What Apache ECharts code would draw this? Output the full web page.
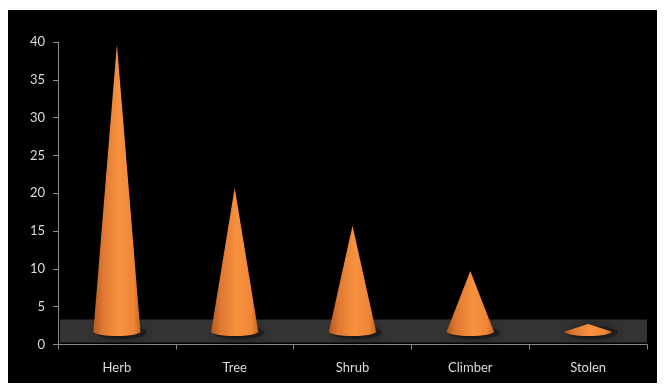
<!DOCTYPE html>
<html>
<head>
<meta charset="utf-8">
<script src="https://cdn.jsdelivr.net/npm/echarts@6/dist/echarts.min.js"></script>
<style>
  html, body { margin: 0; padding: 0; background: #ffffff; }
  #chart { width: 666px; height: 386px; }
</style>
</head>
<body>
<div id="chart"></div>
<script>
// Growth habit counts, drawn as 3D-style cones standing on a floor
const categories = ['Herb', 'Tree', 'Shrub', 'Climber', 'Stolen'];
const counts = [38, 19, 14, 8, 1];
const valueMin = 0;
const valueMax = 40;
const valueStep = 5;

const LIFT = 13;       // depth offset of the cone row above the front floor edge
const FLOOR_H = 23;

const coneGradient = {
  type: 'linear', x: 0, y: 0, x2: 1, y2: 0,
  colorStops: [
    { offset: 0, color: '#b8581b' },
    { offset: 0.2, color: '#df7831' },
    { offset: 0.55, color: '#f8923f' },
    { offset: 0.85, color: '#f08638' },
    { offset: 1, color: '#c8651f' }
  ]
};

function renderFloor(params, api) {
  const cs = params.coordSys;
  const bottom = api.coord([0, valueMin])[1];
  return {
    type: 'rect',
    shape: { x: cs.x + 2, y: bottom - 2 - FLOOR_H, width: cs.width - 2, height: FLOOR_H },
    style: { fill: '#343434' }
  };
}

function renderCone(params, api) {
  const i = api.value(0);
  const v = api.value(1);
  const base = api.coord([i, valueMin]);
  const tip = api.coord([i, v]);
  const band = api.size([1, 0])[0];
  const rx = band * 0.2;
  const ry = 4.5;
  const cx = base[0];
  const by = base[1] - LIFT;
  const ty = tip[1] - LIFT;
  const path = 'M' + cx + ' ' + ty +
    ' L' + (cx + rx) + ' ' + by +
    ' A' + rx + ' ' + ry + ' 0 0 1 ' + (cx - rx) + ' ' + by + ' Z';
  return {
    type: 'group',
    children: [
      {
        type: 'ellipse',
        shape: { cx: cx + 4, cy: by + 1, rx: rx + 2, ry: ry + 2 },
        style: { fill: 'rgba(10,10,10,0.45)', shadowBlur: 14, shadowColor: 'rgba(0,0,0,0.85)' }
      },
      {
        type: 'path',
        shape: { pathData: path },
        style: { fill: coneGradient }
      }
    ]
  };
}

const chart = echarts.init(document.getElementById('chart'), null, { renderer: 'canvas' });
chart.setOption({
  backgroundColor: '#ffffff',
  animation: false,
  graphic: [{
    type: 'rect', z: -10, silent: true,
    shape: { x: 8, y: 10, width: 649, height: 373 },
    style: { fill: '#000000' }
  }],
  grid: { left: 58, right: 19, top: 42, bottom: 41.5 },
  xAxis: {
    type: 'category',
    data: categories,
    boundaryGap: true,
    axisLine: { lineStyle: { color: '#8a8a8a', width: 1 } },
    axisTick: { show: true, length: 5, lineStyle: { color: '#8a8a8a' } },
    axisLabel: { color: '#dcdcdc', fontSize: 13, fontFamily: 'Lato', margin: 17 }
  },
  yAxis: {
    type: 'value',
    min: valueMin,
    max: valueMax,
    interval: valueStep,
    splitLine: { show: false },
    axisLine: { show: true, lineStyle: { color: '#8a8a8a', width: 1 } },
    axisTick: { show: true, length: 5, lineStyle: { color: '#8a8a8a' } },
    axisLabel: { color: '#dcdcdc', fontSize: 13, fontFamily: 'Lato', margin: 13 }
  },
  series: [
    {
      type: 'custom',
      renderItem: renderFloor,
      data: [[0, 0]],
      z: 1,
      silent: true
    },
    {
      type: 'custom',
      renderItem: renderCone,
      data: counts.map((c, i) => [i, c]),
      z: 2
    }
  ]
});
</script>
</body>
</html>
